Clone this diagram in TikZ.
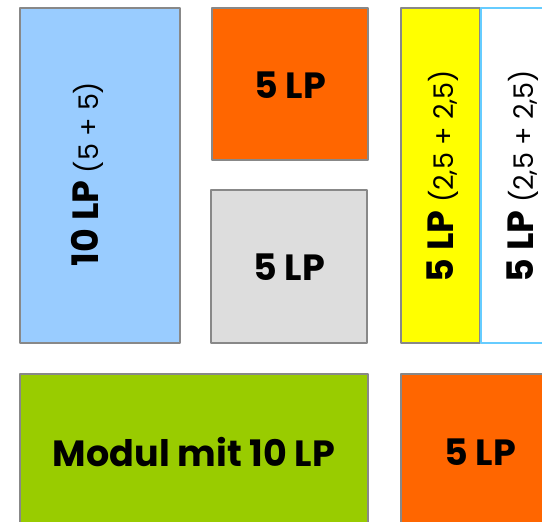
\documentclass[tikz,border=0pt]{standalone}
\usepackage{fontspec}
\setmainfont{Poppins}
\definecolor{lpblue}{HTML}{99CCFF}
\definecolor{lporange}{HTML}{FF6600}
\definecolor{lpgray}{HTML}{DDDDDD}
\definecolor{lpgreen}{HTML}{99CC00}
\definecolor{lpframe}{HTML}{888888}
\definecolor{lpcyan}{HTML}{66CCFF}
\definecolor{lpyellow}{HTML}{FFFF00}

\begin{document}
\begin{tikzpicture}[x=1pt,y=-1pt, line join=round,
	box/.style={draw=lpframe, line width=1.6pt},
	lp/.style={font=\fontsize{36.5}{38}\selectfont\bfseries, inner sep=0pt},
	lpv/.style={lp, rotate=90}]
	\def\klein{\mdseries\fontsize{27}{29}\selectfont}
	\useasboundingbox (0,0) rectangle (542,522);
	% obere Reihe
	\draw[box, fill=lpblue] (20,8) rectangle (180,343);
	\draw[box, fill=lporange] (212,8) rectangle (368,160);
	\draw[box, fill=lpgray] (211,190) rectangle (367,343);
	\draw[box, fill=lpyellow] (401,8) rectangle (480,343);
	\draw[draw=lpcyan, line width=1.6pt, fill=white] (481,8) rectangle (560,343);
	% untere Reihe
	\draw[box, fill=lpgreen] (20,374) rectangle (368,560);
	\draw[box, fill=lporange] (401,374) rectangle (560,560);
	% Beschriftungen
	\node[lpv] (zehn) at (87,174) {10 LP {\klein(5 + 5)}};
	\node[lp] (fuenfa) at (290,85) {5 LP};
	\node[lp] (fuenfb) at (289,267) {5 LP};
	\node[lpv] (fuenfc) at (443,176) {5 LP {\klein(2,5 + 2,5)}};
	\node[lpv] (fuenfd) at (523,176) {5 LP {\klein(2,5 + 2,5)}};
	\node[lp] (modul) at (194,452) {Modul mit 10 LP};
	\node[lp] (fuenfe) at (480,452) {5 LP};
\end{tikzpicture}
\end{document}
